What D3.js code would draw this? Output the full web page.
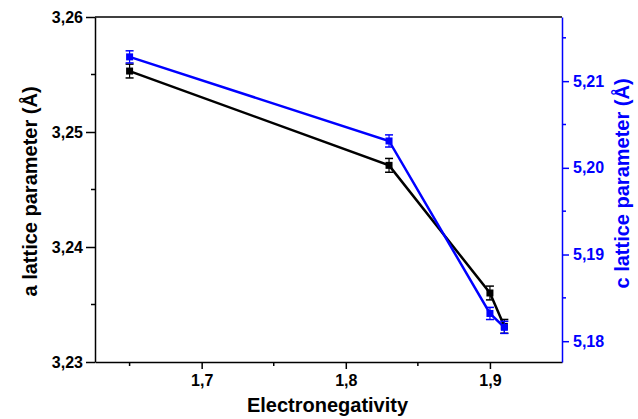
<!DOCTYPE html>
<html lang="en">
<head>
  <meta charset="UTF-8">
  <title>Lattice parameters vs electronegativity</title>
  <script src="https://d3js.org/d3.v7.min.js"></script>
  <style>
    body { margin: 0; background: #fff; }
    text { font-family: "Liberation Sans", Arial, sans-serif; font-weight: bold; }
  </style>
</head>
<body>
  <div id="chart"></div>

  <script>
    // Data
    const electroneg = [1.65, 1.83, 1.90, 1.91];
    const aParam = [3.2553, 3.2471, 3.2360, 3.2331];
    const aErr = [0.0006, 0.0006, 0.0006, 0.0006];
    const cParam = [5.2128, 5.2031, 5.1832, 5.1816];
    const cErr = [0.0007, 0.0007, 0.0007, 0.0007];

    const xTicks = [1.7, 1.8, 1.9];
    const aTicks = [3.23, 3.24, 3.25, 3.26];
    const cTicks = [5.18, 5.19, 5.20, 5.21];

    const W = 638, H = 419;
    const margin = { top: 17, right: 76, bottom: 57, left: 95 };
    const width = W - margin.left - margin.right,
          height = H - margin.top - margin.bottom;

    const BLUE = "#0000ff";
    const comma = d => d3.format(".2f")(d).replace(".", ",");
    const commaX = d => d3.format(".1f")(d).replace(".", ",");

    const svg = d3.select("#chart")
      .append("svg")
      .attr("width", W)
      .attr("height", H)
      .append("g")
      .attr("transform", `translate(${margin.left},${margin.top})`);

    // Scales
    const x = d3.scaleLinear().domain([1.626, 1.95]).range([0, width]);
    const yA = d3.scaleLinear().domain([3.23, 3.26]).range([height, 0]);
    const yC = d3.scaleLinear().domain([5.1776, 5.2174]).range([height, 0]);

    // Minor ticks
    const minorX = [1.65, 1.75, 1.85];
    const minorA = [3.235, 3.245, 3.255];
    const minorC = [5.175, 5.185, 5.195, 5.205, 5.215].filter(v => v >= yC.domain()[0] && v <= yC.domain()[1]);

    // Top frame line
    svg.append("line")
      .attr("x1", 0).attr("x2", width)
      .attr("y1", 0).attr("y2", 0)
      .attr("stroke", "#000").attr("stroke-width", 1.5);

    // Bottom axis
    const gx = svg.append("g")
      .attr("transform", `translate(0,${height})`)
      .call(d3.axisBottom(x).tickValues(xTicks).tickFormat(commaX).tickSize(7).tickSizeOuter(0).tickPadding(6));
    gx.selectAll(".tick line").attr("stroke-width", 1.5);
    gx.selectAll("text").attr("font-size", 16).attr("fill", "#000");
    gx.select(".domain").attr("stroke-width", 1.5);
    gx.selectAll(".minor").data(minorX).join("line")
      .attr("class", "minor")
      .attr("x1", d => x(d)).attr("x2", d => x(d))
      .attr("y1", 0).attr("y2", 4)
      .attr("stroke", "#000").attr("stroke-width", 1.5);

    // Left axis
    const gy = svg.append("g")
      .call(d3.axisLeft(yA).tickValues(aTicks).tickFormat(comma).tickSize(9).tickSizeOuter(0).tickPadding(3));
    gy.selectAll(".tick line").attr("stroke-width", 1.5);
    gy.selectAll("text").attr("font-size", 16).attr("fill", "#000");
    gy.select(".domain").attr("stroke-width", 1.5);
    gy.selectAll(".minor").data(minorA).join("line")
      .attr("class", "minor")
      .attr("x1", -4).attr("x2", 0)
      .attr("y1", d => yA(d)).attr("y2", d => yA(d))
      .attr("stroke", "#000").attr("stroke-width", 1.5);

    // Right axis (blue)
    const gr = svg.append("g")
      .attr("transform", `translate(${width},0)`)
      .call(d3.axisRight(yC).tickValues(cTicks).tickFormat(comma).tickSize(7).tickSizeOuter(0).tickPadding(4));
    gr.selectAll(".tick line").attr("stroke", BLUE).attr("stroke-width", 1.5);
    gr.selectAll("text").attr("font-size", 16).attr("fill", BLUE);
    gr.select(".domain").attr("stroke", BLUE).attr("stroke-width", 1.5);
    gr.selectAll(".minor").data(minorC).join("line")
      .attr("class", "minor")
      .attr("x1", 0).attr("x2", 4)
      .attr("y1", d => yC(d)).attr("y2", d => yC(d))
      .attr("stroke", BLUE).attr("stroke-width", 1.5);

    // Axis titles
    svg.append("text")
      .attr("x", width / 2 - 1)
      .attr("y", height + 50)
      .attr("text-anchor", "middle")
      .attr("font-size", 20)
      .text("Electronegativity");

    svg.append("text")
      .attr("transform", `translate(${-58},${height / 2 + 2}) rotate(-90)`)
      .attr("text-anchor", "middle")
      .attr("font-size", 20)
      .text("a lattice parameter (Å)");

    svg.append("text")
      .attr("transform", `translate(${width + 67},${height / 2 - 6}) rotate(-90)`)
      .attr("text-anchor", "middle")
      .attr("font-size", 20)
      .attr("fill", BLUE)
      .text("c lattice parameter (Å)");

    // Series drawing
    const drawSeries = (vals, errs, yScale, color) => {
      const pts = electroneg.map((e, i) => ({ x: e, y: vals[i], err: errs[i] }));
      svg.append("path")
        .datum(pts)
        .attr("fill", "none")
        .attr("stroke", color)
        .attr("stroke-width", 2.5)
        .attr("d", d3.line().x(d => x(d.x)).y(d => yScale(d.y)));

      const g = svg.append("g");
      pts.forEach(d => {
        const cx = x(d.x), top = yScale(d.y + d.err), bot = yScale(d.y - d.err);
        g.append("line").attr("x1", cx).attr("x2", cx).attr("y1", top).attr("y2", bot)
          .attr("stroke", color).attr("stroke-width", 1.2);
        [top, bot].forEach(yy => {
          g.append("line").attr("x1", cx - 4).attr("x2", cx + 4).attr("y1", yy).attr("y2", yy)
            .attr("stroke", color).attr("stroke-width", 1.5);
        });
        g.append("rect")
          .attr("x", cx - 3.5).attr("y", yScale(d.y) - 3.5)
          .attr("width", 7).attr("height", 7)
          .attr("fill", color);
      });
    };

    drawSeries(aParam, aErr, yA, "#000");
    drawSeries(cParam, cErr, yC, BLUE);
  </script>
</body>
</html>
